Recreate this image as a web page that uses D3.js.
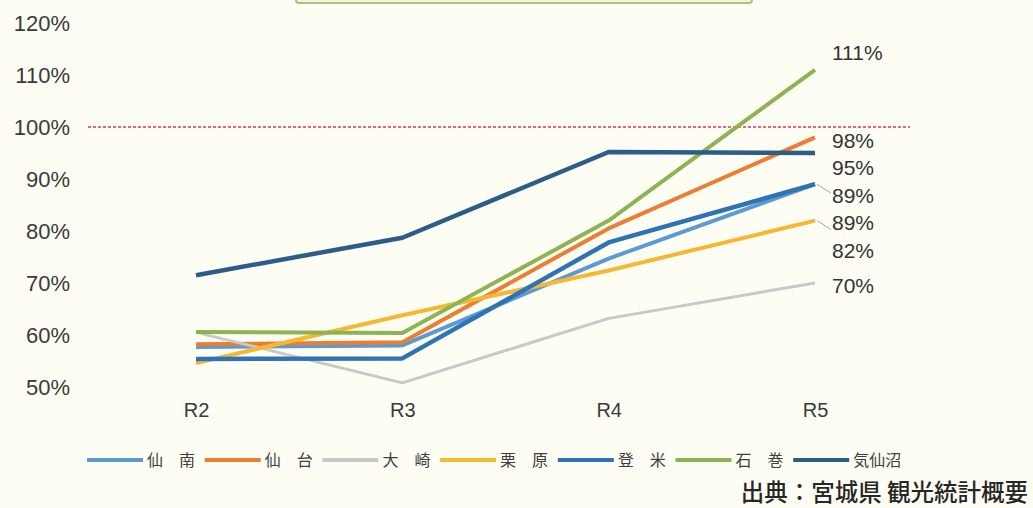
<!DOCTYPE html>
<html>
<head>
<meta charset="utf-8">
<script src="https://cdn.jsdelivr.net/npm/d3@7"></script>
<style>
  html, body { margin: 0; padding: 0; background: #fdfdf3; }
  svg { display: block; }
</style>
</head>
<body>
<svg id="chart" width="1033" height="508"></svg>
<script>
// Fiscal years
const years = ["R2", "R3", "R4", "R5"];

// Regions, in legend order
const regions = ["仙南", "仙台", "大崎", "栗原", "登米", "石巻", "気仙沼"];
const legendNames = ["仙　南", "仙　台", "大　崎", "栗　原", "登　米", "石　巻", "気仙沼"];

// Ratio (%) per year for each region
const senNan     = [57.7, 58.0, 74.7, 89];
const sendai     = [58.2, 58.6, 80.5, 98];
const osaki      = [60.5, 50.8, 63.2, 70];
const kurihara   = [54.6, 63.8, 72.4, 82];
const tome       = [55.4, 55.5, 77.8, 89];
const ishinomaki = [60.6, 60.4, 82.0, 111];
const kesennuma  = [71.5, 78.7, 95.2, 95];

// Labels printed at the last year
const endLabels = ["89%", "98%", "70%", "82%", "89%", "111%", "95%"];

// Y axis ticks
const yTicks = [50, 60, 70, 80, 90, 100, 110, 120];
const targetLine = 100;

const source = "出典：宮城県 観光統計概要";

const seriesValues = [senNan, sendai, osaki, kurihara, tome, ishinomaki, kesennuma];
const colors = ["#5b9bd5", "#ed7d31", "#c9c9c6", "#f6b833", "#2e73b3", "#8cb453", "#2b5d88"];
const widths = [4, 4, 3, 4, 4.5, 4, 4.5];

const svg = d3.select("#chart");
const numFont = "'Liberation Sans', Arial, sans-serif";
const jpFont = "'Noto Sans CJK JP', sans-serif";

const x = d3.scalePoint().domain(years).range([196, 815]);
const y = d3.scaleLinear().domain([50, 120]).range([387, 23]);

// Header box edge peeking in at the top
svg.append("rect")
  .attr("x", 296).attr("y", -6).attr("width", 456).attr("height", 9)
  .attr("rx", 3)
  .attr("fill", "#eef3e2").attr("stroke", "#a9c57f").attr("stroke-width", 2);

// Y axis labels (no axis line)
const yAxis = d3.axisLeft(y).tickValues(yTicks).tickSize(0).tickPadding(0)
  .tickFormat(d => d + "%");
const gy = svg.append("g").attr("transform", "translate(70,0)").call(yAxis);
gy.select(".domain").remove();
gy.selectAll("text")
  .attr("font-family", numFont).attr("font-size", 22).attr("fill", "#3a3a3a");

// X axis labels
const xAxis = d3.axisBottom(x).tickSize(0).tickPadding(0);
const gx = svg.append("g").attr("transform", "translate(0,403)").call(xAxis);
gx.select(".domain").remove();
gx.selectAll("text")
  .attr("font-family", numFont).attr("font-size", 20).attr("fill", "#3a3a3a");

// 100% reference line
svg.append("line")
  .attr("x1", 88).attr("x2", 910)
  .attr("y1", y(targetLine)).attr("y2", y(targetLine))
  .attr("stroke", "#e0355c").attr("stroke-width", 1.5)
  .attr("stroke-dasharray", "3,2");

// Series lines
const line = d3.line().x((d, i) => x(years[i])).y(d => y(d));
svg.append("g").selectAll("path")
  .data(seriesValues)
  .join("path")
  .attr("d", d => line(d))
  .attr("fill", "none")
  .attr("stroke", (d, i) => colors[i])
  .attr("stroke-width", (d, i) => widths[i])
  .attr("stroke-linejoin", "round");

// End labels, stacked so they do not overlap
const last = years[years.length - 1];
const labelX = x(last) + 17;
const order = d3.range(regions.length)
  .sort((a, b) => seriesValues[b][3] - seriesValues[a][3]);
const labelY = new Array(regions.length);
const gap = 27.5;
let prev = -Infinity;
order.forEach((i, k) => {
  let ly = y(seriesValues[i][3]) + 3;
  if (k === 0) ly = y(seriesValues[i][3]) - 17;
  else ly = Math.max(ly, prev + gap);
  labelY[i] = ly;
  prev = ly;
});

// Leader lines for labels pushed away from their line ends
const leaderSeries = [4, 3];
svg.append("g").selectAll("line")
  .data(leaderSeries)
  .join("line")
  .attr("x1", i => x(last) + 2)
  .attr("y1", i => y(seriesValues[i][3]))
  .attr("x2", i => labelX - 1)
  .attr("y2", i => y(seriesValues[i][3]) + 9)
  .attr("stroke", "#a8a8a8").attr("stroke-width", 1);

svg.append("g").selectAll("text")
  .data(d3.range(regions.length))
  .join("text")
  .attr("x", labelX)
  .attr("y", i => labelY[i])
  .attr("dy", "0.35em")
  .attr("font-family", numFont).attr("font-size", 21).attr("fill", "#333")
  .text(i => endLabels[i]);

// Legend
const legend = svg.append("g").attr("transform", "translate(87,460)");
const item = legend.selectAll("g")
  .data(regions)
  .join("g")
  .attr("transform", (d, i) => `translate(${i * 117.7},0)`);
item.append("line")
  .attr("x1", 0).attr("x2", 56).attr("y1", 0).attr("y2", 0)
  .attr("stroke", (d, i) => colors[i])
  .attr("stroke-width", 4);
item.append("text")
  .attr("x", 60).attr("y", 0).attr("dy", "0.36em")
  .attr("font-family", jpFont).attr("font-size", 16).attr("fill", "#404040")
  .text((d, i) => legendNames[i]);

// Source note
svg.append("text")
  .attr("x", 1028).attr("y", 493).attr("dy", "0.35em")
  .attr("text-anchor", "end")
  .attr("font-family", jpFont).attr("font-size", 23.5).attr("font-weight", 500)
  .attr("fill", "#262626")
  .text(source);
</script>
</body>
</html>
